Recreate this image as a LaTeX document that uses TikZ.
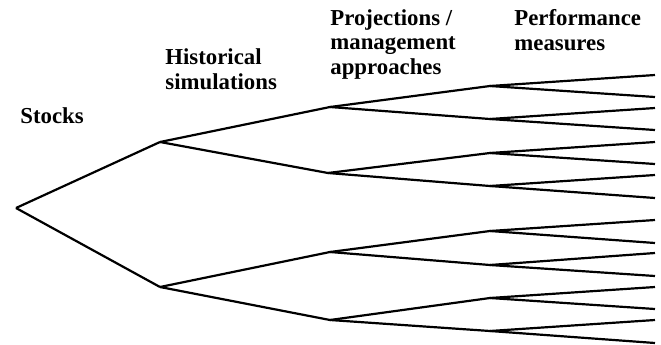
\documentclass[tikz,border=0pt]{standalone}
\usepackage{fontspec}
\setmainfont{Liberation Serif}
\begin{document}
\begin{tikzpicture}[x=0.5pt,y=-0.5pt,
    pt/.style={shape=coordinate},
    head/.style={anchor=base west,inner sep=0pt,align=left,
        font=\bfseries\fontsize{11.4}{12.2}\selectfont},
    branch/.style={line width=1.1pt,line join=round}]
    \useasboundingbox (0,0) rectangle (661,344);
    % headings (base = last line)
    \node[head] (stocks) at (20,123) {Stocks};
    \node[head] (hist) at (165,89) {Historical\\simulations};
    \node[head] (proj) at (330,74) {Projections /\\management\\approaches};
    \node[head] (perf) at (514,50) {Performance\\measures};
    % branch points
    \node[pt] (s) at (16,208) {};
    \node[pt] (h1) at (160,142) {};
    \node[pt] (h2) at (160,287) {};
    \node[pt] (p1) at (330,107) {};
    \node[pt] (p2) at (328,173) {};
    \node[pt] (p3) at (330,252) {};
    \node[pt] (p4) at (330,320) {};
    \foreach \i/\y in {1/86,2/119,3/153,4/186,5/231,6/265,7/298,8/331}
        \node[pt] (m\i) at (490,\y) {};
    \foreach \i/\y in {1/75,2/97,3/108,4/130,5/142,6/164,7/175,8/198,
        9/220,10/243,11/253,12/276,13/287,14/309,15/320,16/343}
        \node[pt] (e\i) at (655,\y) {};

    \path[branch]
    (s) edge (h1) (s) edge (h2)
    (h1) edge (p1) (h1) edge (p2)
    (h2) edge (p3) (h2) edge (p4)
    (p1) edge (m1) (p1) edge (m2)
    (p2) edge (m3) (p2) edge (m4)
    (p3) edge (m5) (p3) edge (m6)
    (p4) edge (m7) (p4) edge (m8)
    ;
    \foreach \i in {1,...,8} {
        \pgfmathtruncatemacro\ea{2*\i-1}
        \pgfmathtruncatemacro\eb{2*\i}
        \path[branch] (m\i) edge (e\ea) (m\i) edge (e\eb);
    }
\end{tikzpicture}
\end{document}
